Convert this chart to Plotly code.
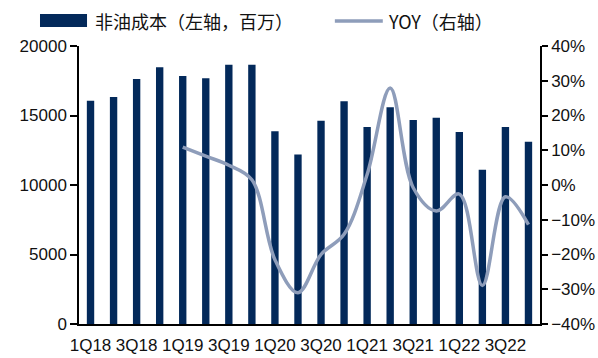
import plotly.graph_objects as go

quarters = ["1Q18", "2Q18", "3Q18", "4Q18", "1Q19", "2Q19", "3Q19", "4Q19",
            "1Q20", "2Q20", "3Q20", "4Q20", "1Q21", "2Q21", "3Q21", "4Q21",
            "1Q22", "2Q22", "3Q22", "4Q22"]
non_oil_cost = [16070, 16330, 17630, 18470, 17840, 17680, 18660, 18660,
                13870, 12190, 14630, 16030, 14180, 15590, 14680, 14830,
                13820, 11090, 14180, 13120]
yoy_quarters = quarters[4:]
yoy_pct = [10.9, 8.3, 5.7, 1.5, -21.5, -31.0, -20.0, -14.2,
           3.0, 27.9, -0.8, -7.5, -2.6, -28.9, -3.4, -11.4]
label_ticks = quarters[::2]

bar_name = "非油成本（左轴，百万）"
line_name = "YOY（右轴）"
navy = "#03295A"
steel = "#8E9DBA"
tick_font = dict(family="Liberation Sans, Arial", size=17, color="#111111")

fig = go.Figure()
fig.add_trace(go.Bar(x=quarters, y=non_oil_cost, name=bar_name,
                     marker=dict(color=navy, line=dict(width=0)), width=0.32))
fig.add_trace(go.Scatter(x=yoy_quarters, y=yoy_pct, name=line_name, yaxis="y2",
                         mode="lines", line=dict(color=steel, width=3.5,
                                                 shape="spline", smoothing=1.0)))

fig.update_layout(
    width=598, height=358,
    margin=dict(l=79, r=58, t=46, b=34),
    paper_bgcolor="white", plot_bgcolor="white",
    showlegend=False,
    xaxis=dict(type="category", categoryorder="array", categoryarray=quarters,
               range=[-0.5, 19.5], tickmode="array", tickvals=label_ticks,
               ticktext=label_ticks, showline=True, linecolor="black", linewidth=2,
               ticks="", showgrid=False, tickfont=tick_font, ticklabelstandoff=5,
               automargin=False),
    yaxis=dict(range=[0, 20000], dtick=5000, showline=True, linecolor="black",
               linewidth=1.5, ticks="outside", ticklen=7, tickcolor="black",
               tickwidth=1.5, showgrid=False, zeroline=False, tickfont=tick_font,
               tickformat="d", automargin=False),
    yaxis2=dict(range=[-40, 40], dtick=10, overlaying="y", side="right",
                showline=True, linecolor="black", linewidth=1.5, ticks="outside",
                ticklen=6, tickcolor="black", tickwidth=1.5, showgrid=False,
                zeroline=False, ticksuffix="%", tickfont=tick_font,
                automargin=False),
)

# legend drawn above the plot area
legend_font = dict(family="Noto Sans CJK SC", size=18, color="#111111")
fig.add_shape(type="rect", xref="paper", yref="paper",
              x0=-0.0846, x1=0.0174, y0=1.068, y1=1.115,
              fillcolor=navy, line=dict(width=0))
fig.add_annotation(xref="paper", yref="paper", x=0.030, y=1.090,
                   text=bar_name, showarrow=False, xanchor="left", yanchor="middle",
                   font=legend_font)
fig.add_shape(type="line", xref="paper", yref="paper",
              x0=0.555, x1=0.659, y0=1.090, y1=1.090,
              line=dict(color=steel, width=3.5))
fig.add_annotation(xref="paper", yref="paper", x=0.665, y=1.090,
                   text=line_name, showarrow=False, xanchor="left", yanchor="middle",
                   font=legend_font)

fig.write_html("out.html")
